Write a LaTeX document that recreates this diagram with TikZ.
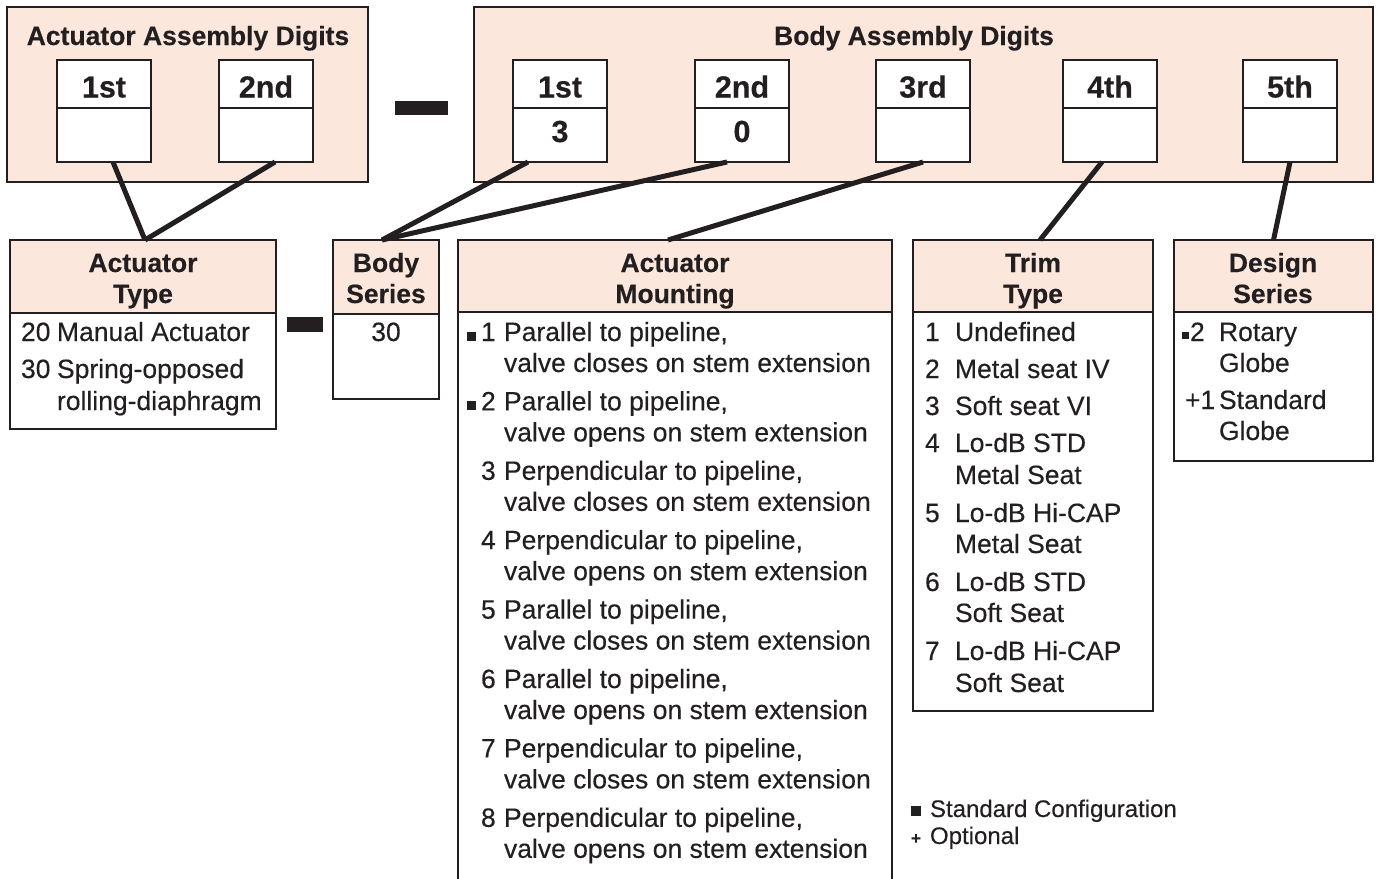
\documentclass[tikz,border=0pt]{standalone}
\usepackage{fontspec}
\setmainfont{Liberation Sans}[UprightFeatures={FakeBold=0.3}, BoldFeatures={FakeBold=0.3}]
\usetikzlibrary{calc}
\definecolor{peach}{RGB}{252,231,220}
\definecolor{ink}{RGB}{35,31,32}
\begin{document}
\begin{tikzpicture}[x=1pt,y=-1pt,
  every node/.style={inner sep=0pt, outer sep=0pt, text=ink},
  panel/.style={draw=ink, line width=2.6pt, fill=peach, anchor=north west},
  digbox/.style={draw=ink, line width=2.4pt, fill=white, anchor=north west, minimum width=94pt, minimum height=102pt},
  listbox/.style={draw=ink, line width=2.4pt, anchor=north west},
  link/.style={draw=ink, line width=5pt},
  sep/.style={draw=ink, line width=2.4pt},
  ttl/.style={font=\fontsize{26.5}{30}\selectfont\bfseries, anchor=base},
  txt/.style={font=\fontsize{26.5}{30}\selectfont, anchor=base west},
  dig/.style={font=\fontsize{30.5}{34}\selectfont\bfseries, anchor=base},
  leg/.style={font=\fontsize{24}{27}\selectfont, anchor=base west}]
\useasboundingbox (0,0) rectangle (1378,878);

% ---------- top panels ----------
\node[panel, minimum width=361pt, minimum height=175pt] (actpanel) at (7,7) {};
\node[panel, minimum width=899pt, minimum height=175pt] (bodypanel) at (474,7) {};
\node[ttl] (acttitle) at (188,45) {Actuator Assembly Digits};
\node[ttl] (bodytitle) at (914,45) {Body Assembly Digits};

% actuator digit boxes
\node[digbox] (a1) at (57,60) {};
\node[digbox] (a2) at (219,60) {};
% body digit boxes
\node[digbox] (b1) at (513,60) {};
\node[digbox] (b2) at (695,60) {};
\node[digbox] (b3) at (876,60) {};
\node[digbox] (b4) at (1063,60) {};
\node[digbox] (b5) at (1243,60) {};
\foreach \b in {a1,a2,b1,b2,b3,b4,b5}{
  \draw[sep] ($(\b.north west)+(0,48)$) -- ($(\b.north east)+(0,48)$);
}
\node[dig] (a1t) at ($(a1.north)+(0,37.5)$) {1st};
\node[dig] (a2t) at ($(a2.north)+(0,37.5)$) {2nd};
\node[dig] (b1t) at ($(b1.north)+(0,37.5)$) {1st};
\node[dig] (b2t) at ($(b2.north)+(0,37.5)$) {2nd};
\node[dig] (b3t) at ($(b3.north)+(0,37.5)$) {3rd};
\node[dig] (b4t) at ($(b4.north)+(0,37.5)$) {4th};
\node[dig] (b5t) at ($(b5.north)+(0,37.5)$) {5th};
\node[dig] (b1v) at ($(b1.north)+(0,82)$) {3};
\node[dig] (b2v) at ($(b2.north)+(0,82)$) {0};

% dashes
\fill[ink] (395,101) rectangle (448,115);
\fill[ink] (287,317) rectangle (323,332);

% ---------- lower boxes ----------
% Actuator Type
\fill[peach] (10,240) rectangle (276,313);
\node[listbox, minimum width=266pt, minimum height=189pt] (at) at (10,240) {};
\draw[sep] (10,313) -- (276,313);
% Body Series
\fill[peach] (333,240) rectangle (439,314);
\node[listbox, minimum width=106pt, minimum height=159pt] (bs) at (333,240) {};
\draw[sep] (333,314) -- (439,314);
% Actuator Mounting (open at bottom)
\fill[peach] (458,240) rectangle (892,312);
\node[anchor=north west, minimum width=434pt, minimum height=640pt] (am) at (458,240) {};
\draw[sep] (am.south west) -- (am.north west) -- (am.north east) -- (am.south east);
\draw[sep] (458,312) -- (892,312);
% Trim Type
\fill[peach] (913,240) rectangle (1153,312);
\node[listbox, minimum width=240pt, minimum height=471pt] (tt) at (913,240) {};
\draw[sep] (913,312) -- (1153,312);
% Design Series
\fill[peach] (1174,240) rectangle (1373,312);
\node[listbox, minimum width=199pt, minimum height=221pt] (ds) at (1174,240) {};
\draw[sep] (1174,312) -- (1373,312);

% ---------- connectors ----------
\draw[link] ($(a1.south)+(9,0)$) -- ($(at.north)+(2,0)$);
\draw[link] ($(a2.south)+(9,0)$) -- ($(at.north)+(2,0)$);
\draw[link] ($(b1.south)+(-32,0)$) -- ($(bs.north)+(-4,0)$);
\draw[link] ($(b2.south)+(-15,0)$) -- ($(bs.north)+(-4,0)$);
\draw[link] (b3.south) -- ($(am.north)+(-7,0)$);
\draw[link] ($(b4.south)+(-8,0)$) -- ($(tt.north)+(7,0)$);
\draw[link] (b5.south) -- (ds.north);

% ---------- headers ----------
\node[ttl] (at1) at (143,272) {Actuator};
\node[ttl] (at2) at (143,303) {Type};
\node[ttl] (bs1) at (386,272) {Body};
\node[ttl] (bs2) at (386,303) {Series};
\node[ttl] (am1) at (675,272) {Actuator};
\node[ttl] (am2) at (675,303) {Mounting};
\node[ttl] (tt1) at (1033,272) {Trim};
\node[ttl] (tt2) at (1033,303) {Type};
\node[ttl] (ds1) at (1273,272) {Design};
\node[ttl] (ds2) at (1273,303) {Series};

% ---------- Actuator Type list ----------
\node[txt] (at20) at (21,341) {20};
\node[txt] (at20t) at (57,341) {Manual Actuator};
\node[txt] (at30) at (21,378) {30};
\node[txt] (at30t) at (57,378) {Spring-opposed};
\node[txt] (at30u) at (57,410) {rolling-diaphragm};

% ---------- Body Series ----------
\node[font=\fontsize{26.5}{30}\selectfont, anchor=base] (bs30) at (386,341) {30};

% ---------- Actuator Mounting list ----------
\fill[ink] (467,332) rectangle (476,341);
\fill[ink] (467,401) rectangle (476,410);
\node[txt] (m1n) at (481,341) {1};
\node[txt] (m1a) at (504,341) {Parallel to pipeline,};
\node[txt] (m1b) at (504,372) {valve closes on stem extension};
\node[txt] (m2n) at (481,410.4) {2};
\node[txt] (m2a) at (504,410.4) {Parallel to pipeline,};
\node[txt] (m2b) at (504,441.4) {valve opens on stem extension};
\node[txt] (m3n) at (481,479.8) {3};
\node[txt] (m3a) at (504,479.8) {Perpendicular to pipeline,};
\node[txt] (m3b) at (504,510.8) {valve closes on stem extension};
\node[txt] (m4n) at (481,549.2) {4};
\node[txt] (m4a) at (504,549.2) {Perpendicular to pipeline,};
\node[txt] (m4b) at (504,580.2) {valve opens on stem extension};
\node[txt] (m5n) at (481,618.6) {5};
\node[txt] (m5a) at (504,618.6) {Parallel to pipeline,};
\node[txt] (m5b) at (504,649.6) {valve closes on stem extension};
\node[txt] (m6n) at (481,688) {6};
\node[txt] (m6a) at (504,688) {Parallel to pipeline,};
\node[txt] (m6b) at (504,719) {valve opens on stem extension};
\node[txt] (m7n) at (481,757.4) {7};
\node[txt] (m7a) at (504,757.4) {Perpendicular to pipeline,};
\node[txt] (m7b) at (504,788.4) {valve closes on stem extension};
\node[txt] (m8n) at (481,826.8) {8};
\node[txt] (m8a) at (504,826.8) {Perpendicular to pipeline,};
\node[txt] (m8b) at (504,857.8) {valve opens on stem extension};

% ---------- Trim Type list ----------
\node[txt] (t1n) at (925,341) {1};
\node[txt] (t1a) at (955,341) {Undefined};
\node[txt] (t2n) at (925,378) {2};
\node[txt] (t2a) at (955,378) {Metal seat IV};
\node[txt] (t3n) at (925,415) {3};
\node[txt] (t3a) at (955,415) {Soft seat VI};
\node[txt] (t4n) at (925,452) {4};
\node[txt] (t4a) at (955,452) {Lo-dB STD};
\node[txt] (t4b) at (955,484) {Metal Seat};
\node[txt] (t5n) at (925,522) {5};
\node[txt] (t5a) at (955,522) {Lo-dB Hi-CAP};
\node[txt] (t5b) at (955,553) {Metal Seat};
\node[txt] (t6n) at (925,591) {6};
\node[txt] (t6a) at (955,591) {Lo-dB STD};
\node[txt] (t6b) at (955,622) {Soft Seat};
\node[txt] (t7n) at (925,660) {7};
\node[txt] (t7a) at (955,660) {Lo-dB Hi-CAP};
\node[txt] (t7b) at (955,692) {Soft Seat};

% ---------- Design Series list ----------
\fill[ink] (1182,332) rectangle (1189,339);
\node[txt] (d2n) at (1190,341) {2};
\node[txt] (d2a) at (1219,341) {Rotary};
\node[txt] (d2b) at (1219,372) {Globe};
\node[txt] (d1n) at (1185,409) {+1};
\node[txt] (d1a) at (1219,409) {Standard};
\node[txt] (d1b) at (1219,440) {Globe};

% ---------- legend ----------
\fill[ink] (911,806) rectangle (921,816);
\node[leg] (lg1) at (930,817) {Standard Configuration};
\node[font=\fontsize{17}{18}\selectfont\bfseries, anchor=center] (lgplus) at (916,839) {+};
\node[leg] (lg2) at (930,844) {Optional};
\end{tikzpicture}
\end{document}
